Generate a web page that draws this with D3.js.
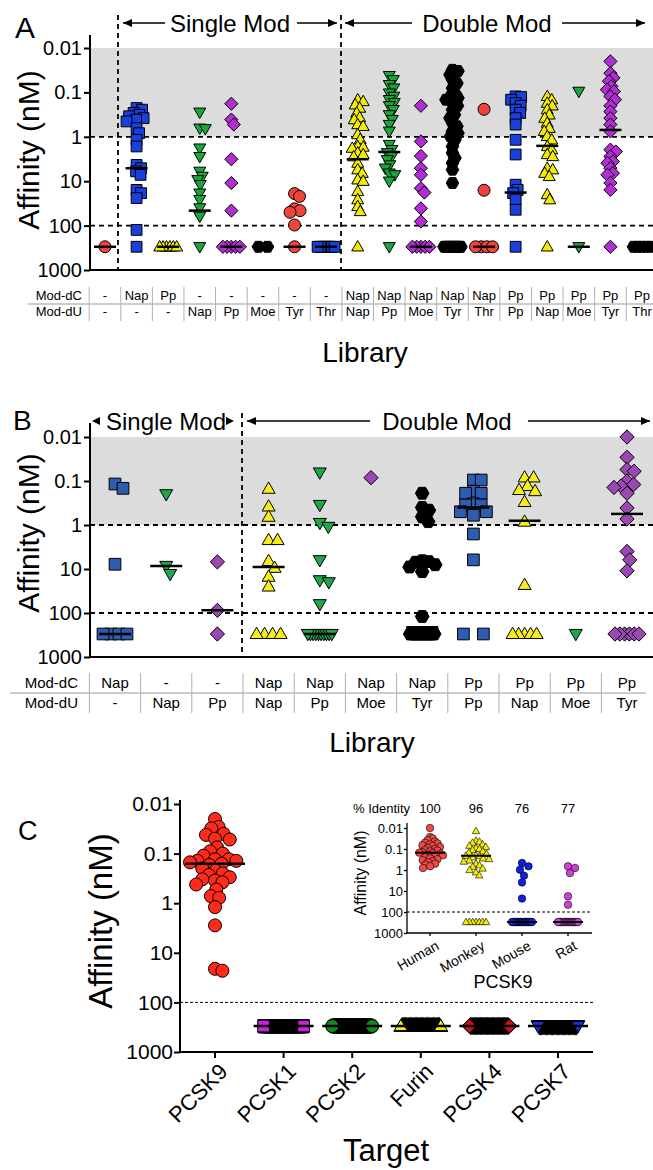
<!DOCTYPE html>
<html><head><meta charset="utf-8">
<script src="https://cdn.jsdelivr.net/npm/d3@7"></script>
<style>body{margin:0;background:#fff}svg{display:block;font-family:"Liberation Sans",Arial,Helvetica,sans-serif}</style>
</head><body><svg id="c" width="653" height="1170"></svg>
<script>
// ---------------- DATA ----------------
const yTickValues = [0.01, 0.1, 1, 10, 100, 1000];
const yTickLabels = ["0.01", "0.1", "1", "10", "100", "1000"];
const NB_VALUE = 300; // non-binders are plotted at 300 nM

// Panel A libraries
const aModDC = ["-","Nap","Pp","-","-","-","-","-","Nap","Nap","Nap","Nap","Nap","Pp","Pp","Pp","Pp","Pp"];
const aModDU = ["-","-","-","Nap","Pp","Moe","Tyr","Thr","Nap","Pp","Moe","Tyr","Thr","Pp","Nap","Moe","Tyr","Thr"];
const aBinders = [
  [],
  [0.225,0.245,0.29,0.32,0.345,0.38,0.41,0.45,0.64,0.83,1.17,1.65,4.3,5.1,6.0,7.2,15.7,18.6,24,125],
  [],
  [0.28,0.64,0.66,1.8,2.8,6.0,7.8,9.3,12,18.6,26,40,62],
  [0.18,0.41,0.53,3.2,11,46],
  [],
  [19,22,42,46,50,97],
  [],
  [0.146,0.16,0.19,0.225,0.29,0.37,0.41,0.53,0.58,0.89,1.15,1.65,1.7,1.8,2.3,2.5,2.8,3.9,5.5,6.6,9.3,10,17,26,37,48],
  [0.042,0.052,0.067,0.08,0.104,0.123,0.146,0.17,0.2,0.245,0.32,0.41,0.53,0.75,1.5,1.95,2.3,2.77,3.3,4.3,5.1,6.6,7.2,10],
  [0.2,1.27,2.7,5.1,7.2,14.4,18,41,81],
  [0.031,0.033,0.04,0.052,0.062,0.08,0.104,0.123,0.134,0.146,0.17,0.2,0.245,0.32,0.38,0.49,0.58,0.75,0.83,0.98,1.17,1.65,2.3,3.0,3.9,5.5,11],
  [0.24,16],
  [0.123,0.127,0.146,0.174,0.2,0.245,0.29,0.38,0.53,1.17,2.5,12,15.7,18.6,26,44],
  [0.123,0.146,0.174,0.2,0.245,0.32,0.38,0.49,0.64,0.75,0.98,1.17,1.65,1.95,2.5,2.77,5.1,5.5,6.6,7.8,20,26],
  [0.095],
  [0.02,0.037,0.047,0.056,0.073,0.087,0.095,0.123,0.146,0.2,0.27,0.38,0.53,0.75,1.95,2.15,2.77,3.6,3.9,5.1,6.6,7.2,11,15.7],
  []
];
const aNonBinders = [1,1,6,1,5,2,1,8,1,1,5,10,4,1,1,1,1,5];
const aMedians = [300,5.1,300,46,300,300,300,300,3.2,2.2,300,null,300,18,1.6,300,0.7,null];

// Panel B libraries
const bModDC = ["Nap","-","-","Nap","Nap","Nap","Nap","Pp","Pp","Pp","Pp"];
const bModDU = ["-","Nap","Pp","Nap","Pp","Moe","Tyr","Pp","Nap","Moe","Tyr"];
const bBinders = [
  [0.117,0.147,7.8],
  [0.2,8.5,13],
  [6.9,87],
  [0.15,0.38,0.65,2.2,2.2,6.6,9.4,15,25],
  [0.064,0.35,0.9,1.1,6.3,18,20,63],
  [0.084],
  [0.19,0.4,0.46,0.65,0.84,6.5,6.8,7,8,9,11.5,120],
  [0.095,0.095,0.17,0.19,0.19,0.33,0.35,0.35,0.5,0.5,0.6,1.6,6.2],
  [0.083,0.083,0.13,0.16,0.17,0.3,0.84,23],
  [],
  [0.01,0.029,0.055,0.06,0.1,0.12,0.13,0.14,0.19,0.41,0.73,4,6.2,11]
];
const bNonBinders = [4,0,1,4,10,0,12,2,5,1,6];
const bMedians = [300,8.5,87,9.0,300,null,210,0.40,0.8,null,0.56];

// Panel C: targets
const cTargets = ["PCSK9","PCSK1","PCSK2","Furin","PCSK4","PCSK7"];
const cBinders = [
  [0.02,0.029,0.031,0.04,0.042,0.05,0.052,0.075,0.09,0.1,0.11,0.13,0.13,0.14,0.14,0.15,0.16,0.17,0.2,0.22,0.25,0.27,0.3,0.33,0.35,0.38,0.42,0.53,0.72,0.78,1.2,2.8,21,23],
  [],[],[],[],[]
];
const cNonBinders = [0,34,34,34,34,34];
const cMedians = [0.16,300,300,300,300,300];

// Panel C inset: species
const insetSpecies = ["Human","Monkey","Mouse","Rat"];
const insetIdentity = ["100","96","76","77"];
const insetBinders = [
  [0.01,0.027,0.031,0.038,0.044,0.05,0.054,0.06,0.066,0.072,0.08,0.088,0.1,0.11,0.12,0.13,0.14,0.15,0.16,0.17,0.19,0.2,0.23,0.25,0.28,0.31,0.34,0.38,0.43,0.5,0.56,0.66,0.8],
  [0.014,0.04,0.045,0.05,0.06,0.07,0.08,0.09,0.1,0.11,0.13,0.15,0.17,0.2,0.21,0.22,0.25,0.28,0.3,0.35,0.4,0.5,0.6,0.7,0.85,1.0,1.3,1.8],
  [0.46,0.67,0.96,1.86,3.9,23],
  [0.67,0.8,1.4,18,45]
];
const insetNonBinders = [0,7,22,22];
const insetMedians = [0.15,0.21,300,300];

// ---------------- STYLES ----------------
const aShapes = ["circle","square","tri","triDown","diamond","hex","circle","square","tri","triDown","diamond","hex","circle","square","tri","triDown","diamond","hex"];
const aPalette = {circle:"#f2433b",square:"#1b3fdc",tri:"#f3ec00",triDown:"#18a83a",diamond:"#b22ed4",hex:"#000"};
const bShapes = ["square","triDown","diamond","tri","triDown","diamond","hex","square","tri","triDown","diamond"];
const bPalette = {square:"#2e5cb0",triDown:"#1fa84a",diamond:"#9a48b4",tri:"#f5ee1a",hex:"#000"};
const cShapes = ["circle","square","circle","tri","diamond","triDown"];
const cColors = ["#ff2a1a","#d21ee0","#0e8a1a","#f4ee00","#d0101a","#1530f0"];
const insetShapes = ["circle","tri","circle","circle"];
const insetColors = ["#f04a48","#f4ee00","#1020e0","#d040d8"];

// ---------------- HELPERS ----------------
const svg = d3.select("#c");

function shapePath(shape, s) {
  const r = s / 2;
  if (shape === "circle") return d3.symbol(d3.symbolCircle, Math.PI * r * r)();
  if (shape === "square") { const q = r * 0.9; return `M${-q},${-q}H${q}V${q}H${-q}Z`; }
  if (shape === "tri") { const h = s * 0.87; return `M0,${-h*0.6}L${r},${h*0.4}L${-r},${h*0.4}Z`; }
  if (shape === "triDown") { const h = s * 0.87; return `M0,${h*0.6}L${r},${-h*0.4}L${-r},${-h*0.4}Z`; }
  if (shape === "diamond") { const q = r * 1.1; return `M0,${-q}L${q},0L0,${q}L${-q},0Z`; }
  if (shape === "hex") {
    const q = r * 1.05;
    const pts = d3.range(6).map(k => [q * Math.cos(k * Math.PI / 3), q * Math.sin(k * Math.PI / 3)]);
    return "M" + pts.map(p => p.join(",")).join("L") + "Z";
  }
}

function swarm(vals, y, minDist, maxHalf) {
  const pts = vals.map(v => ({v, y: y(v)})).sort((a, b) => a.y - b.y);
  const placed = [];
  for (const p of pts) {
    let best = 0;
    for (let k = 0; k < 3000; k++) {
      const off = (k % 2 ? 1 : -1) * Math.ceil(k / 2) * 0.5;
      let ok = true;
      for (const q of placed) {
        const dx = q.x - off, dy = q.y - p.y;
        if (dx * dx + dy * dy < minDist * minDist) { ok = false; break; }
      }
      if (ok) { best = off; break; }
    }
    p.x = best; placed.push(p);
  }
  const m = d3.max(placed, p => Math.abs(p.x)) || 0;
  if (m > maxHalf) placed.forEach(p => p.x *= maxHalf / m);
  return placed;
}

function layoutNB(n, maxHalf, cap) {
  if (n === 0) return [];
  if (n === 1) return [0];
  const d = Math.min(cap, 2 * maxHalf / (n - 1));
  return d3.range(n).map(i => (i - (n - 1) / 2) * d).sort((a, b) => Math.abs(a) - Math.abs(b));
}

function drawColumns(g, xs, y, binders, nbCounts, medians, shapes, colorOf, p) {
  binders.forEach((vals, i) => {
    const cx = xs(i);
    const col = g.append("g");
    const sym = shapePath(shapes[i], p.size);
    const nbY = y(NB_VALUE);
    const nbOffs = layoutNB(nbCounts[i], p.nbHalf, p.nbCap);
    nbOffs.forEach((o, k) => {
      const outer = k >= nbOffs.length - 2;
      col.append("path").attr("d", sym).attr("transform", `translate(${cx + o},${nbY})`)
        .attr("fill", colorOf(i)).attr("stroke", "#000")
        .attr("stroke-width", (p.nbSW && !outer) ? p.nbSW : p.sw);
    });
    swarm(vals, y, p.minDist, p.maxHalf).forEach(pt => {
      col.append("path").attr("d", sym).attr("transform", `translate(${cx + pt.x},${pt.y})`)
        .attr("fill", colorOf(i)).attr("stroke", "#000").attr("stroke-width", p.sw);
    });
    if (medians[i] != null) {
      col.append("line").attr("x1", cx - p.medW / 2).attr("x2", cx + p.medW / 2)
        .attr("y1", y(medians[i])).attr("y2", y(medians[i]))
        .attr("stroke", "#000").attr("stroke-width", p.medSW);
    }
  });
}

function yAxis(g, y, x, top, fontSize, tickSize, pad, sw) {
  const ax = g.append("g").attr("transform", `translate(${x},0)`)
    .call(d3.axisLeft(y).tickValues(yTickValues).tickFormat((d, i) => yTickLabels[i]).tickSize(tickSize).tickPadding(pad));
  ax.select(".domain").remove();
  ax.selectAll(".tick line").attr("stroke", "#000").attr("stroke-width", sw);
  ax.selectAll(".tick text").attr("font-size", fontSize).attr("font-family", '"Liberation Sans", Arial, sans-serif').attr("fill", "#000");
  g.append("line").attr("x1", x).attr("x2", x).attr("y1", top).attr("y2", y(1000))
    .attr("stroke", "#000").attr("stroke-width", sw);
}

function arrow(g, x1, x2, y) {
  g.append("line").attr("x1", x1).attr("x2", x2).attr("y1", y).attr("y2", y).attr("stroke", "#000").attr("stroke-width", 1.6);
  const dir = Math.sign(x2 - x1);
  g.append("path").attr("d", `M${x2},${y}L${x2 - dir * 9},${y - 4}L${x2 - dir * 9},${y + 4}Z`).attr("fill", "#000");
}

function hdash(g, x1, x2, y, sw, dash) {
  g.append("line").attr("x1", x1).attr("x2", x2).attr("y1", y).attr("y2", y)
    .attr("stroke", "#000").attr("stroke-width", sw).attr("stroke-dasharray", dash);
}
function vdash(g, x, y1, y2, sw, dash) {
  g.append("line").attr("x1", x).attr("x2", x).attr("y1", y1).attr("y2", y2)
    .attr("stroke", "#000").attr("stroke-width", sw).attr("stroke-dasharray", dash);
}

function text(g, x, y, s, size, anchor) {
  return g.append("text").attr("x", x).attr("y", y).attr("font-size", size)
    .attr("text-anchor", anchor || "middle").attr("fill", "#000").text(s);
}

function table(g, xs, dC, dU, o) {
  const step = xs.step();
  g.append("line").attr("x1", o.lineX1).attr("x2", o.lineX2).attr("y1", o.sepY).attr("y2", o.sepY)
    .attr("stroke", "#9a9a9a").attr("stroke-width", 1.2);
  text(g, o.labelX, o.row1, "Mod-dC", o.font, "end");
  text(g, o.labelX, o.row2, "Mod-dU", o.font, "end");
  dC.forEach((s, i) => {
    text(g, xs(i), o.row1, s, o.font);
    text(g, xs(i), o.row2, dU[i], o.font);
    g.append("line").attr("x1", xs(i) - step / 2).attr("x2", xs(i) - step / 2)
      .attr("y1", o.divY1).attr("y2", o.divY2).attr("stroke", "#b0b0b0").attr("stroke-width", 1);
  });
}

// ---------------- PANEL A ----------------
{
  const g = svg.append("g");
  const y = d3.scaleLog().domain([0.01, 1000]).range([48, 270]);
  const x = d3.scalePoint().domain(d3.range(aModDC.length)).range([105, 642]);
  g.append("rect").attr("x", 90).attr("y", y(0.01)).attr("width", 563).attr("height", y(1) - y(0.01)).attr("fill", "#dcdcdc");
  hdash(g, 90, 653, y(1), 1.8, "5,4");
  hdash(g, 90, 653, y(100), 1.8, "5,4");
  vdash(g, 118, 15, 270, 1.8, "5,4");
  vdash(g, 341, 15, 270, 1.8, "5,4");
  drawColumns(g, x, y, aBinders, aNonBinders, aMedians, aShapes, i => aPalette[aShapes[i]],
    {size: 12, sw: 1, minDist: 5.5, maxHalf: 10, nbHalf: 8.5, nbCap: 9, medW: 22, medSW: 2.5});
  yAxis(g, y, 90, 35, 20, 6, 2, 2);
  g.append("line").attr("x1", 89).attr("x2", 653).attr("y1", 270).attr("y2", 270).attr("stroke", "#000").attr("stroke-width", 2);
  text(g, 15, 38, "A", 30, "start");
  text(g, 230, 32, "Single Mod", 24);
  text(g, 487, 32, "Double Mod", 24);
  arrow(g, 165, 123, 23); arrow(g, 297, 337, 23);
  arrow(g, 412, 345, 23); arrow(g, 562, 645, 23);
  text(g, 0, 0, "Affinity (nM)", 30).attr("transform", "translate(39,150) rotate(-90)");
  table(g, x, aModDC, aModDU, {row1: 300, row2: 316, sepY: 304, divY1: 287, divY2: 321, labelX: 82, lineX1: 28, lineX2: 653, font: 13});
  text(g, 365, 362, "Library", 28);
}

// ---------------- PANEL B ----------------
{
  const g = svg.append("g");
  const y = d3.scaleLog().domain([0.01, 1000]).range([437, 657]);
  const x = d3.scalePoint().domain(d3.range(bModDC.length)).range([115, 627]);
  g.append("rect").attr("x", 90).attr("y", y(0.01)).attr("width", 563).attr("height", y(1) - y(0.01)).attr("fill", "#dcdcdc");
  hdash(g, 90, 653, y(1), 1.8, "5,4");
  hdash(g, 90, 653, y(100), 1.8, "5,4");
  vdash(g, 242, 413, 657, 1.8, "5,4");
  drawColumns(g, x, y, bBinders, bNonBinders, bMedians, bShapes, i => bPalette[bShapes[i]],
    {size: 13, sw: 1, minDist: 9, maxHalf: 13, nbHalf: 12, nbCap: 20, medW: 32, medSW: 2.5});
  yAxis(g, y, 90, 423, 20, 6, 2, 2);
  g.append("line").attr("x1", 89).attr("x2", 653).attr("y1", 657).attr("y2", 657).attr("stroke", "#000").attr("stroke-width", 2);
  text(g, 13, 430, "B", 28, "start");
  text(g, 166, 430, "Single Mod", 24);
  g.append("path").attr("d", "M92,421L100,417L100,425Z").attr("fill", "#000");
  g.append("path").attr("d", "M234,421L226,417L226,425Z").attr("fill", "#000");
  text(g, 447, 430, "Double Mod", 24);
  arrow(g, 370, 247, 421); arrow(g, 528, 650, 421);
  text(g, 0, 0, "Affinity (nM)", 30).attr("transform", "translate(39,533) rotate(-90)");
  table(g, x, bModDC, bModDU, {row1: 688, row2: 708, sepY: 693, divY1: 673, divY2: 713, labelX: 78, lineX1: 10, lineX2: 646, font: 15});
  text(g, 372, 752, "Library", 28);
}

// ---------------- PANEL C ----------------
{
  const g = svg.append("g");
  const y = d3.scaleLog().domain([0.01, 1000]).range([804, 1052]);
  const x = d3.scalePoint().domain(d3.range(cTargets.length)).range([215, 558]);
  hdash(g, 180, 593, y(100), 1, "3,2");
  drawColumns(g, x, y, cBinders, cNonBinders, cMedians, cShapes, i => cColors[i],
    {size: 13, sw: 1, nbSW: 2.6, minDist: 9, maxHalf: 25, nbHalf: 20, nbCap: 12, medW: 60, medSW: 2.5});
  yAxis(g, y, 180, 800, 21, 6, 1, 2);
  g.append("line").attr("x1", 179).attr("x2", 593).attr("y1", 1052).attr("y2", 1052).attr("stroke", "#000").attr("stroke-width", 2);
  cTargets.forEach((t, i) => {
    g.append("line").attr("x1", x(i)).attr("x2", x(i)).attr("y1", 1052).attr("y2", 1058).attr("stroke", "#000").attr("stroke-width", 2);
    text(g, 0, 0, t, 22, "end").attr("transform", `translate(${x(i) + 3},${1062}) rotate(-45)`).attr("dy", "0.7em");
  });
  text(g, 18, 840, "C", 27, "start");
  text(g, 0, 0, "Affinity (nM)", 33).attr("transform", "translate(112,921) rotate(-90)");
  text(g, 386, 1161, "Target", 31);

  // inset
  const yi = d3.scaleLog().domain([0.01, 1000]).range([828, 933]);
  const xi = d3.scalePoint().domain(d3.range(insetSpecies.length)).range([430, 568]);
  hdash(g, 407, 592, yi(100), 1, "3,2");
  drawColumns(g, xi, yi, insetBinders, insetNonBinders, insetMedians, insetShapes, i => insetColors[i],
    {size: 7.5, sw: 0.6, minDist: 7, maxHalf: 13, nbHalf: 10, nbCap: 7, medW: 30, medSW: 2});
  yAxis(g, yi, 407, 823, 13, 3, 1, 1.3);
  g.append("line").attr("x1", 406).attr("x2", 592).attr("y1", 933).attr("y2", 933).attr("stroke", "#000").attr("stroke-width", 1.3);
  insetSpecies.forEach((s, i) => {
    g.append("line").attr("x1", xi(i)).attr("x2", xi(i)).attr("y1", 933).attr("y2", 936).attr("stroke", "#000").attr("stroke-width", 1.3);
    text(g, 0, 0, s, 14, "end").attr("transform", `translate(${xi(i) + 5},${940}) rotate(-30)`).attr("dy", "0.7em");
    text(g, xi(i), 813, insetIdentity[i], 13);
  });
  text(g, 353, 813, "% Identity", 13, "start");
  text(g, 0, 0, "Affinity (nM)", 16).attr("transform", "translate(366,873) rotate(-90)");
  text(g, 503, 988, "PCSK9", 18);
}
</script></body></html>
